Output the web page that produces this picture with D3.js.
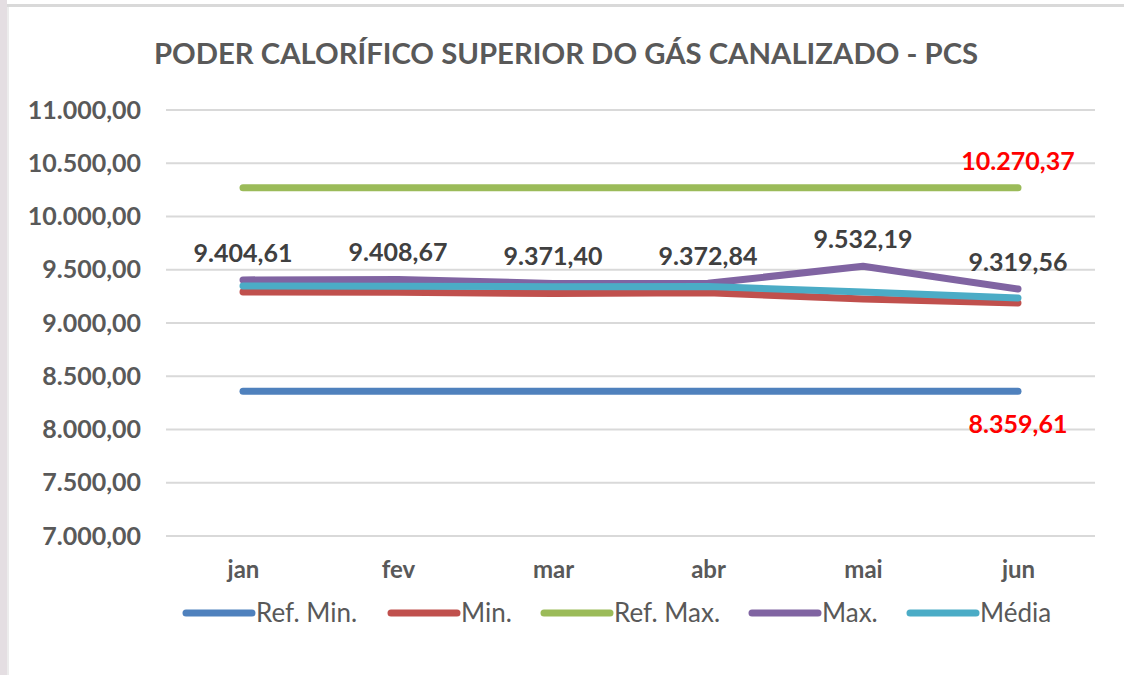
<!DOCTYPE html>
<html>
<head>
<meta charset="utf-8">
<script src="https://cdn.jsdelivr.net/npm/d3@7"></script>
<style>
  body { margin: 0; background: #fff; }
  svg { display: block; }
</style>
</head>
<body>
<div id="chart"></div>
<script>
var months = ["jan", "fev", "mar", "abr", "mai", "jun"];
var refMin = [8359.61, 8359.61, 8359.61, 8359.61, 8359.61, 8359.61];
var minVals = [9291, 9289, 9276, 9285, 9225, 9188];
var refMax = [10270.37, 10270.37, 10270.37, 10270.37, 10270.37, 10270.37];
var maxVals = [9404.61, 9408.67, 9371.40, 9372.84, 9532.19, 9319.56];
var media = [9347, 9346, 9340, 9342, 9290, 9235];
var yTicks = [7000, 7500, 8000, 8500, 9000, 9500, 10000, 10500, 11000];

var SERIES = [
  {name: "Ref. Min.", values: refMin, color: "#4f81bd"},
  {name: "Min.", values: minVals, color: "#c0504d"},
  {name: "Ref. Max.", values: refMax, color: "#9bbb59"},
  {name: "Max.", values: maxVals, color: "#8064a2"},
  {name: "Média", values: media, color: "#4bacc6"}
];

var W = 1124, H = 675;
var FONT = "Lato, 'Open Sans', sans-serif";
var ptBR = d3.formatLocale({decimal: ",", thousands: ".", grouping: [3], currency: ["R$", ""]});
var fmt = ptBR.format(",.2f");

var svg = d3.select("#chart").append("svg")
  .attr("width", W)
  .attr("height", H);

// frame bits
svg.append("rect").attr("x", 0).attr("y", 0).attr("width", 7).attr("height", H).style("fill", "#e4dee2");
svg.append("rect").attr("x", 7).attr("y", 4).attr("width", W - 7).attr("height", 3).style("fill", "#d9d9d9");
svg.append("rect").attr("x", 7).attr("y", 7).attr("width", 2).attr("height", H - 7).style("fill", "#ececec");

var x = d3.scalePoint().domain(months).range([243, 1018]);
var y = d3.scaleLinear().domain([7000, 11000]).range([536, 110]);

// gridlines
svg.append("g").selectAll("line")
  .data(yTicks)
  .enter().append("line")
  .attr("x1", 166)
  .attr("x2", 1095)
  .attr("y1", function(d){ return y(d); })
  .attr("y2", function(d){ return y(d); })
  .style("stroke", "#d9d9d9")
  .style("stroke-width", 2);

// y labels
var yAxis = svg.append("g")
  .attr("transform", "translate(141,0)")
  .call(d3.axisLeft(y).tickValues(yTicks).tickFormat(fmt).tickSize(0).tickPadding(0));
yAxis.select(".domain").remove();
yAxis.selectAll("text")
  .style("font-family", FONT)
  .style("font-weight", "bold")
  .style("font-size", "25px")
  .style("fill", "#595959");

// x labels
var xAxis = svg.append("g")
  .attr("transform", "translate(0,561)")
  .call(d3.axisBottom(x).tickSize(0).tickPadding(0));
xAxis.select(".domain").remove();
xAxis.selectAll("text")
  .style("font-family", FONT)
  .style("font-weight", "bold")
  .style("font-size", "24px")
  .style("fill", "#595959");

// title
svg.append("text")
  .attr("x", 566)
  .attr("y", 64)
  .attr("text-anchor", "middle")
  .style("font-family", FONT)
  .style("font-weight", "bold")
  .style("font-size", "29.3px")
  .style("fill", "#595959")
  .text("PODER CALORÍFICO SUPERIOR DO GÁS CANALIZADO - PCS");

// lines
var line = d3.line()
  .x(function(d, i){ return x(months[i]); })
  .y(function(d){ return y(d); });

svg.append("g").selectAll("path")
  .data(SERIES)
  .enter().append("path")
  .attr("d", function(s){ return line(s.values); })
  .style("fill", "none")
  .style("stroke", function(s){ return s.color; })
  .style("stroke-width", 7)
  .style("stroke-linecap", "round")
  .style("stroke-linejoin", "round");

// Max data labels
svg.append("g").selectAll("text")
  .data(maxVals)
  .enter().append("text")
  .attr("x", function(d, i){ return x(months[i]); })
  .attr("y", function(d){ return y(d) - 18; })
  .attr("text-anchor", "middle")
  .style("font-family", FONT)
  .style("font-weight", "bold")
  .style("font-size", "25px")
  .style("fill", "#404040")
  .text(function(d){ return fmt(d); });

// reference labels at last point
var last = months.length - 1;
svg.append("text")
  .attr("x", x(months[last]))
  .attr("y", y(refMax[last]) - 18)
  .attr("text-anchor", "middle")
  .style("font-family", FONT)
  .style("font-weight", "bold")
  .style("font-size", "25px")
  .style("fill", "#ff0000")
  .text(fmt(refMax[last]));
svg.append("text")
  .attr("x", x(months[last]))
  .attr("y", y(refMin[last]) + 42)
  .attr("text-anchor", "middle")
  .style("font-family", FONT)
  .style("font-weight", "bold")
  .style("font-size", "25px")
  .style("fill", "#ff0000")
  .text(fmt(refMin[last]));

// legend
var legendX = [186, 391, 544, 752, 910];
var legend = svg.append("g").selectAll("g")
  .data(SERIES)
  .enter().append("g")
  .attr("transform", function(s, i){ return "translate(" + legendX[i] + ",613)"; });
legend.append("line")
  .attr("x1", 0).attr("x2", 66)
  .attr("y1", 0).attr("y2", 0)
  .style("stroke", function(s){ return s.color; })
  .style("stroke-width", 7)
  .style("stroke-linecap", "round");
legend.append("text")
  .attr("x", 70)
  .attr("y", 9)
  .style("font-family", FONT)
  .style("font-size", "26px")
  .style("fill", "#595959")
  .text(function(s){ return s.name; });
</script>
</body>
</html>
